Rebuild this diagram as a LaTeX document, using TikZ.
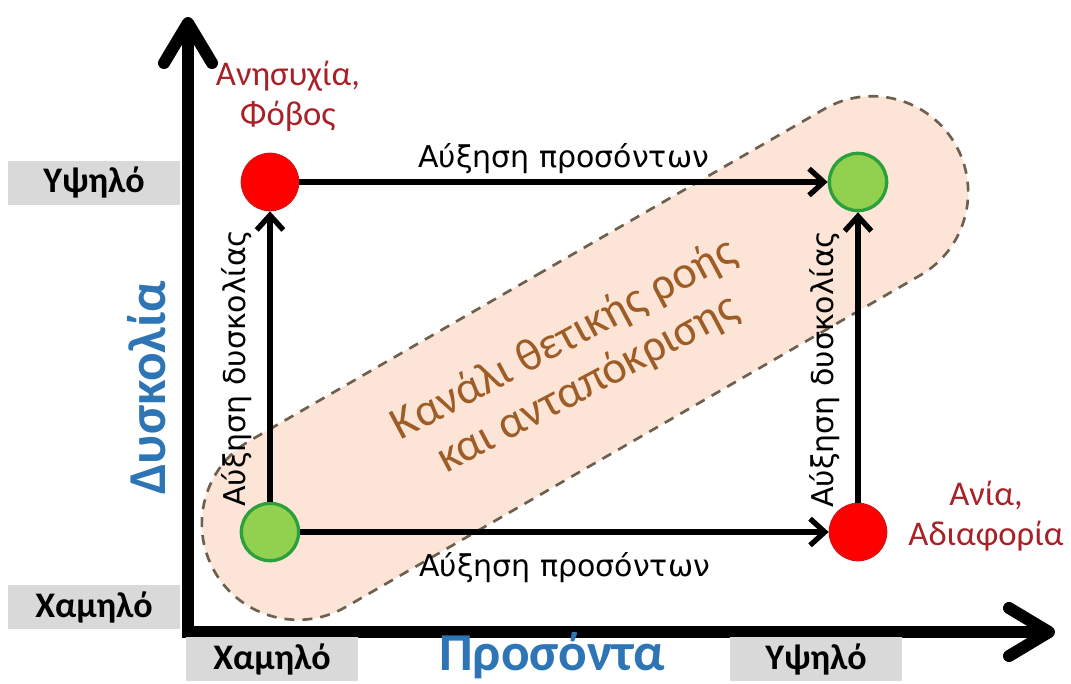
\documentclass[tikz,border=0pt]{standalone}
\usepackage{fontspec}
\setmainfont{Carlito}
\newfontfamily\labelfont{DejaVu Sans}
\usetikzlibrary{arrows.meta,shapes.misc}

\definecolor{warnred}{RGB}{168,32,40}
\definecolor{axisblue}{RGB}{46,117,182}
\definecolor{chanfill}{RGB}{252,229,215}
\definecolor{chanline}{RGB}{110,96,78}
\definecolor{chantext}{RGB}{158,92,38}
\definecolor{boxgray}{RGB}{217,217,217}
\definecolor{dotgreen}{RGB}{146,208,80}
\definecolor{dotgreenline}{RGB}{44,160,60}
\definecolor{dotred}{RGB}{255,0,0}
\definecolor{dotredline}{RGB}{215,20,20}

\begin{document}
\begin{tikzpicture}[x=0.75pt,y=-0.75pt,
  axis/.style={line width=9pt, line join=miter,
    {Straight Barb[length=30pt,width=36pt,round]}-{Straight Barb[length=30pt,width=36pt,round]}},
  flow/.style={line width=4pt, -{Straight Barb[length=11pt,width=20pt]}},
  dot/.style={circle, minimum size=43pt, inner sep=0pt},
  reddot/.style={dot, fill=dotred, draw=dotredline, line width=1pt},
  greendot/.style={dot, fill=dotgreen, draw=dotgreenline, line width=2.5pt},
  lbl/.style={font=\labelfont\fontsize{22.5}{27}\selectfont},
  tick/.style={fill=boxgray, minimum width=129pt, minimum height=33pt,
    inner sep=0pt, font=\bfseries\fontsize{27}{31}\selectfont},
  title/.style={text=axisblue, font=\bfseries\fontsize{40}{48}\selectfont},
  note/.style={text=warnred, align=center, font=\fontsize{26}{30}\selectfont},
  channel/.style={rounded rectangle, minimum width=648pt, minimum height=144pt,
    fill=chanfill, draw=chanline, line width=2pt, dash pattern=on 7.5pt off 6pt},
  chantxt/.style={text=chantext, align=center, font=\fontsize{34.5}{38}\selectfont}
]
\useasboundingbox (0,0) rectangle (1071,683);

% flow channel in the background
\node[channel, rotate=30] (chan) at (585,358) {};
\node[chantxt, rotate=28] (chtext) at (576,362) {Κανάλι θετικής ροής\\και ανταπόκρισης};

% axes
\coordinate (ytip) at (188,17);
\coordinate (orig) at (188,632);
\coordinate (xtip) at (1055,632);
\draw[axis] (ytip) -- (orig) -- (xtip);

% scale marks
\node[tick] (yhigh) at (94,182.5) {Υψηλό};
\node[tick] (ylow) at (94,607) {Χαμηλό};
\node[tick] (xlow) at (272,659) {Χαμηλό};
\node[tick] (xhigh) at (816,659) {Υψηλό};

% axis titles
\node[title, rotate=90] (ytitle) at (147,388) {Δυσκολία};
\node[title] (xtitle) at (552,656) {Προσόντα};

% states
\node[reddot] (hl) at (270,182) {};
\node[greendot] (hr) at (858,182) {};
\node[greendot] (ll) at (270,532) {};
\node[reddot] (lr) at (858,532) {};

\node[note] (worry) at (288,96) {Ανησυχία,\\Φόβος};
\node[note] (bored) at (986,516) {Ανία,\\Αδιαφορία};

% transitions
\draw[flow] (hl) -- node[lbl, above=1pt] {Αύξηση προσόντων} (hr);
\draw[flow] (ll) -- node[lbl, below=10pt] {Αύξηση προσόντων} (lr);
\draw[flow] (ll) -- node[lbl, rotate=90, above=8pt, pos=0.46] {Αύξηση δυσκολίας} (hl);
\draw[flow] (lr) -- node[lbl, rotate=90, above=8pt, pos=0.46] {Αύξηση δυσκολίας} (hr);
\end{tikzpicture}
\end{document}
